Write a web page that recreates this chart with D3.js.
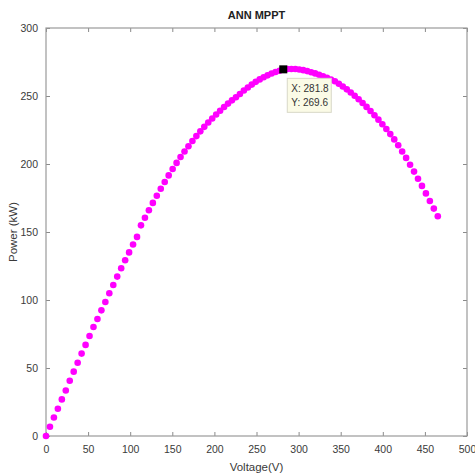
<!DOCTYPE html>
<html>
<head>
<meta charset="utf-8">
<script src="https://cdn.jsdelivr.net/npm/d3@7"></script>
<style>
	body { margin: 0; background: #fff; }
	svg { font-family: "Liberation Sans", Arial, sans-serif; }
</style>
</head>
<body>
<div id="chart"></div>
<script>
// dados
var voltage = [0, 4.7, 9.4, 14.1, 18.8, 23.5, 28.2, 32.9, 37.6, 42.3,
	47.0, 51.7, 56.4, 61.1, 65.8, 70.5, 75.2, 79.9, 84.6, 89.3,
	94.0, 98.7, 103.4, 108.1, 112.8, 117.5, 122.2, 126.9, 131.6, 136.3,
	141.0, 145.7, 150.4, 155.1, 159.8, 164.5, 169.2, 173.9, 178.6, 183.3,
	188.0, 192.7, 197.4, 202.1, 206.8, 211.5, 216.2, 220.9, 225.6, 230.3,
	235.0, 239.7, 244.4, 249.1, 253.8, 258.5, 263.2, 267.9, 272.6, 277.3,
	281.8, 286.7, 291.4, 296.1, 300.8, 305.5, 310.2, 314.9, 319.6, 324.3,
	329.0, 333.7, 338.4, 343.1, 347.8, 352.5, 357.2, 361.9, 366.6, 371.3,
	376.0, 380.7, 385.4, 390.1, 394.8, 399.5, 404.2, 408.9, 413.6, 418.3,
	423.0, 427.7, 432.4, 437.1, 441.8, 446.5, 451.2, 455.9, 460.6, 465.3];
var power = [0, 6.8, 13.6, 20.0, 26.9, 33.5, 40.6, 47.3, 53.9, 60.6,
	67.0, 73.5, 80.1, 86.0, 92.4, 98.5, 105.0, 111.0, 117.2, 123.3,
	129.2, 135.0, 140.8, 146.4, 154.9, 160.5, 166.0, 171.4, 176.7, 181.8,
	186.8, 191.6, 196.3, 200.8, 205.1, 209.2, 213.1, 216.9, 220.5, 224.0,
	227.3, 230.5, 233.5, 236.4, 239.2, 241.9, 244.4, 246.8, 249.1, 251.5,
	254.0, 256.3, 258.4, 260.4, 262.2, 263.8, 265.2, 266.5, 267.6, 268.6,
	269.6, 269.8, 269.9, 269.8, 269.5, 269.0, 268.3, 267.5, 266.6, 265.6,
	264.5, 263.3, 262.1, 260.8, 259.0, 257.0, 254.9, 252.6, 250.2, 247.6,
	244.9, 242.0, 239.0, 235.9, 232.6, 229.2, 225.7, 222.0, 218.1, 213.8,
	209.2, 204.5, 199.5, 194.4, 189.2, 183.9, 178.4, 172.8, 167.2, 161.6];
var xTicks = [0, 50, 100, 150, 200, 250, 300, 350, 400, 450, 500];
var yTicks = [0, 50, 100, 150, 200, 250, 300];
var cursor = { x: 281.8, y: 269.6 };

var width = 475, height = 476;
var margin = {top: 28, right: 8, bottom: 40, left: 46};
var plotW = width - margin.left - margin.right;
var plotH = height - margin.top - margin.bottom;

var xScale = d3.scaleLinear().domain([0, 500]).range([0, plotW]);
var yScale = d3.scaleLinear().domain([0, 300]).range([plotH, 0]);

var svg = d3.select("#chart").append("svg")
	.attr("width", width)
	.attr("height", height);

var g = svg.append("g")
	.attr("transform", "translate(" + margin.left + "," + margin.top + ")");

// eixos (ticks para dentro, como no matlab)
function styleAxis(sel, showText) {
	sel.select(".domain").remove();
	sel.selectAll(".tick line").attr("stroke", "#8a8a8a");
	sel.selectAll(".tick text")
		.attr("fill", "#3a3a3a")
		.style("font-size", "10.5px")
		.style("display", showText ? null : "none");
}

g.append("g")
	.attr("transform", "translate(0," + plotH + ")")
	.call(d3.axisBottom(xScale).tickValues(xTicks).tickSizeInner(-4).tickSizeOuter(0).tickPadding(10))
	.call(styleAxis, true);
g.append("g")
	.call(d3.axisTop(xScale).tickValues(xTicks).tickSizeInner(-4).tickSizeOuter(0))
	.call(styleAxis, false);
g.append("g")
	.call(d3.axisLeft(yScale).tickValues(yTicks).tickSizeInner(-4).tickSizeOuter(0).tickPadding(8))
	.call(styleAxis, true);
g.append("g")
	.attr("transform", "translate(" + plotW + ",0)")
	.call(d3.axisRight(yScale).tickValues(yTicks).tickSizeInner(-4).tickSizeOuter(0))
	.call(styleAxis, false);

// caixa
g.append("rect")
	.attr("width", plotW)
	.attr("height", plotH)
	.attr("fill", "none")
	.attr("stroke", "#9a9a9a")
	.attr("stroke-width", 1.2);

// pontos
var data = voltage.map(function(v, i) { return {v: v, p: power[i]}; });
g.selectAll("circle")
	.data(data)
	.enter()
	.append("circle")
	.attr("cx", function(d) { return xScale(d.v); })
	.attr("cy", function(d) { return yScale(d.p); })
	.attr("r", 3.3)
	.attr("fill", "#ff00ff");

// data cursor
var cx = xScale(cursor.x), cy = yScale(cursor.y);
g.append("rect")
	.attr("x", cx - 4)
	.attr("y", cy - 4)
	.attr("width", 8)
	.attr("height", 8)
	.attr("fill", "#000");

var tip = g.append("g").attr("transform", "translate(" + (cx + 4) + "," + (cy + 9) + ")");
tip.append("rect")
	.attr("width", 44)
	.attr("height", 34)
	.attr("fill", "#fbfbe6")
	.attr("stroke", "#d8d8c8");
tip.append("text")
	.attr("x", 4).attr("y", 14)
	.attr("fill", "#333")
	.style("font-size", "10px")
	.text("X: " + cursor.x);
tip.append("text")
	.attr("x", 4).attr("y", 28)
	.attr("fill", "#333")
	.style("font-size", "10px")
	.text("Y: " + cursor.y);

// titulo e rotulos
svg.append("text")
	.attr("x", margin.left + plotW / 2)
	.attr("y", 19)
	.attr("text-anchor", "middle")
	.attr("fill", "#222")
	.style("font-size", "11px")
	.style("font-weight", "bold")
	.text("ANN MPPT");

svg.append("text")
	.attr("x", margin.left + plotW / 2)
	.attr("y", 471)
	.attr("text-anchor", "middle")
	.attr("fill", "#3a3a3a")
	.style("font-size", "11.5px")
	.text("Voltage(V)");

svg.append("text")
	.attr("transform", "translate(17," + (margin.top + plotH / 2) + ") rotate(-90)")
	.attr("text-anchor", "middle")
	.attr("fill", "#3a3a3a")
	.style("font-size", "11.5px")
	.text("Power (kW)");
</script>
</body>
</html>
